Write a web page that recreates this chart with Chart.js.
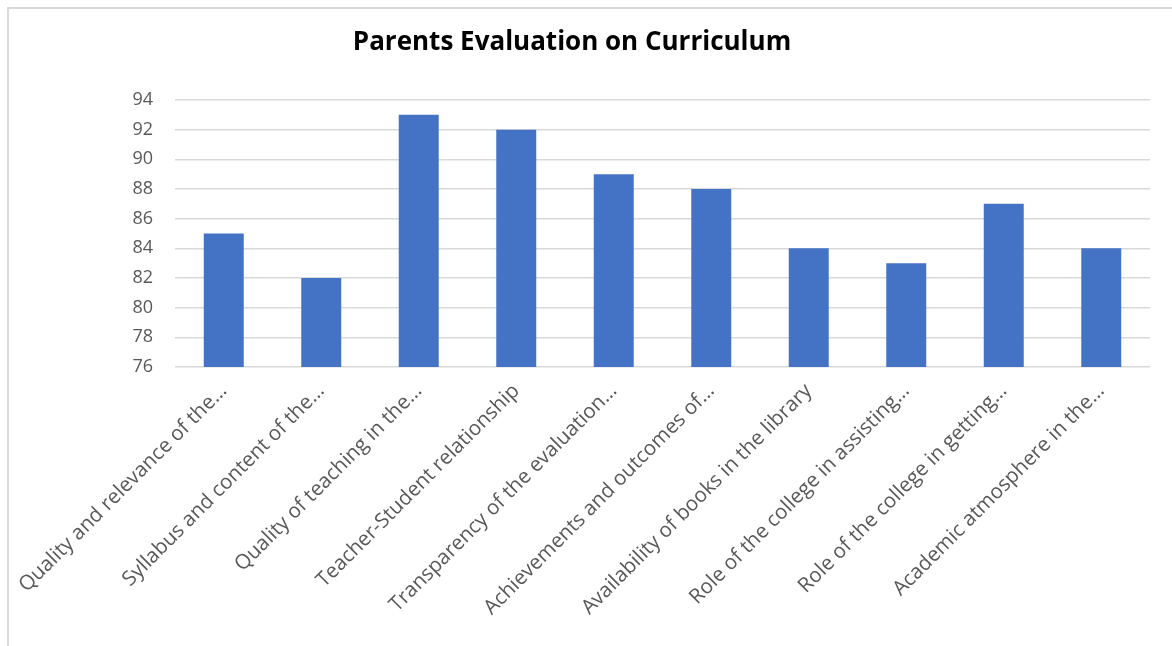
<!DOCTYPE html>
<html>
<head>
<meta charset="utf-8">
<script src="https://cdn.jsdelivr.net/npm/chart.js@4.4.1/dist/chart.umd.min.js"></script>
<style>
    html, body { margin: 0; padding: 0; background: #fff; }
    #frame { position: absolute; left: 7px; top: 7px; right: 0; bottom: 0; border-top: 2px solid #d9d9d9; border-left: 2px solid #d9d9d9; }
    #wrap { position: absolute; left: 0; top: 0; width: 1172px; height: 646px; }
</style>
</head>
<body>
<div id="frame"></div>
<div id="wrap"><canvas id="curriculumChart" width="1172" height="646"></canvas></div>
<script>
const chartTitle = 'Parents Evaluation on Curriculum';

const categories = [
    'Quality and relevance of the…',
    'Syllabus and content of the…',
    'Quality of teaching in the…',
    'Teacher-Student relationship',
    'Transparency of the evaluation…',
    'Achievements and outcomes of…',
    'Availability of books in the library',
    'Role of the college in assisting…',
    'Role of the college in getting…',
    'Academic atmosphere in the…'
];

const scores = [85, 82, 93, 92, 89, 88, 84, 83, 87, 84];

const yMin = 76;
const yMax = 94;
const yStep = 2;

// title drawn at a fixed spot, Excel centers it on the frame not the plot
const titlePlugin = {
    id: 'titleText',
    afterDraw(chart) {
        const ctx = chart.ctx;
        ctx.save();
        ctx.font = 'bold 26px "Open Sans"';
        ctx.fillStyle = '#000';
        ctx.textAlign = 'center';
        ctx.textBaseline = 'middle';
        ctx.fillText(chartTitle, 572, 43);
        ctx.restore();
    }
};

const ctx = document.getElementById('curriculumChart').getContext('2d');
new Chart(ctx, {
    type: 'bar',
    data: {
        labels: categories,
        datasets: [{
            label: 'Score',
            data: scores,
            backgroundColor: '#4472C4',
            barPercentage: 0.41,
            categoryPercentage: 1
        }]
    },
    options: {
        responsive: false,
        animation: false,
        layout: { padding: { top: 100, right: 22, bottom: 0, left: 0 } },
        plugins: {
            legend: { display: false },
            title: { display: false },
            tooltip: { enabled: false }
        },
        scales: {
            x: {
                grid: { display: false },
                border: { display: false },
                ticks: {
                    color: '#595959',
                    font: { family: '"Open Sans"', size: 20.5 },
                    minRotation: 45,
                    maxRotation: 45,
                    autoSkip: false,
                    padding: 4
                },
                afterFit(scale) { scale.height = 279; }
            },
            y: {
                min: yMin,
                max: yMax,
                grid: { color: '#d9d9d9', lineWidth: 1.5, drawTicks: false },
                border: { display: false },
                ticks: {
                    stepSize: yStep,
                    color: '#595959',
                    font: { family: '"Open Sans"', size: 18 },
                    padding: 22
                },
                afterFit(scale) { scale.width = 175; }
            }
        }
    },
    plugins: [titlePlugin]
});
</script>
</body>
</html>
